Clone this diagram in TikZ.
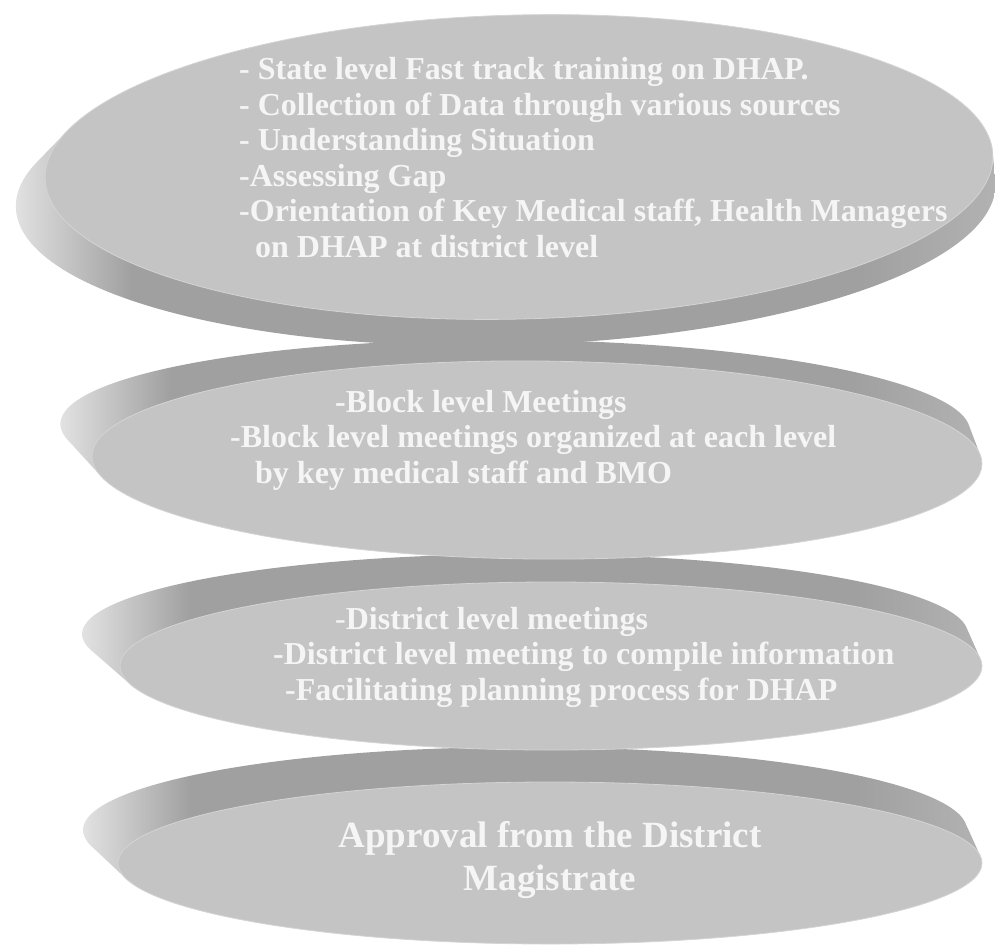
\documentclass[tikz,border=0pt]{standalone}
\usepackage{fontspec}
\setmainfont{Liberation Serif}

\definecolor{facegray}{RGB}{196,196,196}
\definecolor{rimgray}{RGB}{212,212,212}
\definecolor{sidelight}{RGB}{226,226,226}
\definecolor{sidedark}{RGB}{160,160,160}
\definecolor{sidemid}{RGB}{178,178,178}
\definecolor{textwhite}{RGB}{245,245,245}

% light at the left tip, dark along the rim, a bit lighter again on the right
\pgfdeclarehorizontalshading{sidegrad}{100bp}{color(0bp)=(sidelight); color(25bp)=(sidelight); color(31bp)=(sidedark); color(68bp)=(sidedark); color(75bp)=(sidemid); color(100bp)=(sidemid)}

\begin{document}
\begin{tikzpicture}[x=1pt, y=-1pt,
    steptext/.style={text=textwhite, font=\bfseries\fontsize{32}{35.5}\selectfont, align=left, inner sep=0pt},
    discface/.style={fill=facegray, draw=rimgray, line width=0.8pt},
    discside/.style={shading=sidegrad}]
  \useasboundingbox (0,0) rectangle (995,948);

  % discs, lowest first so that each one lies over the next
  \foreach \fx/\fy/\frx/\fry/\bx/\by/\brx/\bry/\rot in {
      550/863/432/81/525/830/442/83/0,
      551/666/431/84/525/634/443/80/0,
      537/460/445/99/515/428/455/88/-0.5,
      519/167/474/152/505/195/490/150/1.4}
  {
    \begin{scope}[rotate around={\rot:(\fx,\fy)}]
      % side of the disc: back ellipse swept onto the face
      \shade[discside] \foreach \s in {0,0.05,...,1}
        {({\bx+\s*(\fx-\bx)},{\by+\s*(\fy-\by)}) ellipse [x radius={\brx+\s*(\frx-\brx)}, y radius={\bry+\s*(\fry-\bry)}]};
      \draw[discface] (\fx,\fy) ellipse [x radius=\frx, y radius=\fry];
    \end{scope}
  }

  % base of a multi-line node is the baseline of its last line
  \node[steptext, anchor=base west] (prep) at (239,257)
    {- State level Fast track training on DHAP.\\
     - Collection of Data through various sources\\
     - Understanding Situation\\
     -Assessing Gap\\
     -Orientation of Key Medical staff, Health Managers\\
     \hspace*{16pt}on DHAP at district level};

  \node[steptext, anchor=base west] (block) at (230,483)
    {\hspace*{105pt}-Block level Meetings\\
     -Block level meetings organized at each level\\
     \hspace*{25pt}by key medical staff and BMO};

  \node[steptext, anchor=base west] (district) at (273,700)
    {\hspace*{62pt}{\mdseries-}District level meetings\\
     -District level meeting to compile information\\
     \hspace*{12pt}-Facilitating planning process for DHAP};

  \node[steptext, align=center, anchor=base, font=\bfseries\fontsize{37}{43}\selectfont] (approval) at (550,890)
    {Approval from the District\\ Magistrate};
\end{tikzpicture}
\end{document}
